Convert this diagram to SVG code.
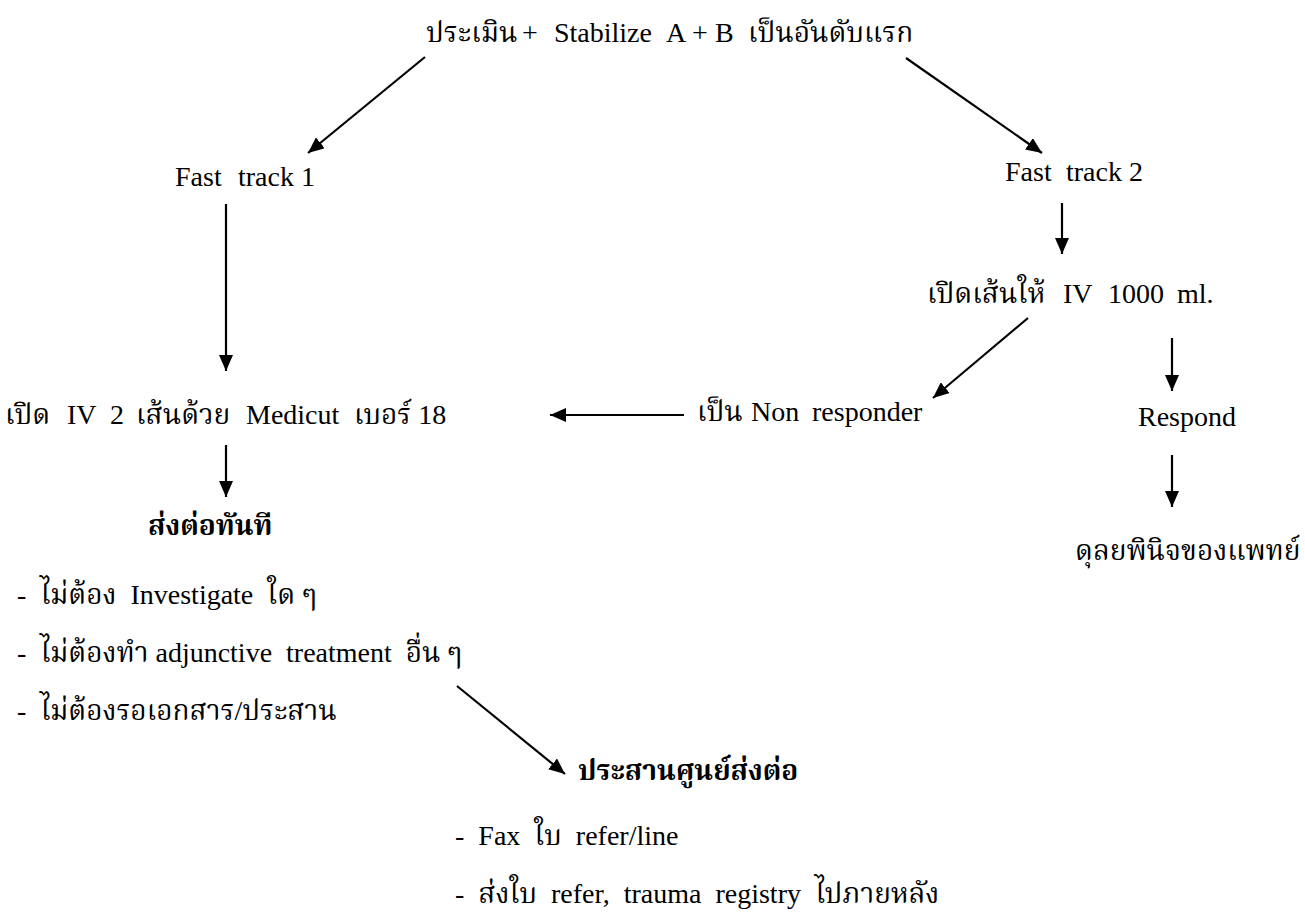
<svg xmlns="http://www.w3.org/2000/svg" width="1305" height="913" viewBox="0 0 1305 913">
<style>
text { font-family: "Liberation Serif", "Noto Serif Thai", "Noto Sans Thai", "Tlwg Typo", serif; font-size: 28px; fill: #000; }
.b { font-weight: bold; }
.c line { stroke: #000; stroke-width: 2.2; marker-end: url(#ah); }
</style>
<defs>
<marker id="ah" markerUnits="userSpaceOnUse" markerWidth="16" markerHeight="14" refX="16" refY="7" orient="auto">
<path d="M0,0 L16,7 L0,14 z" fill="#000"/>
</marker>
</defs>
<rect width="1305" height="913" fill="#fff"/>
<g id="n-top"><text y="42"><tspan x="426">ประเมิน</tspan><tspan x="522">+</tspan><tspan x="554">Stabilize</tspan><tspan x="666">A</tspan><tspan x="692">+</tspan><tspan x="715">B</tspan><tspan x="748">เป็นอันดับแรก</tspan></text></g>
<g id="n-ft1"><text y="186"><tspan x="175">Fast</tspan><tspan x="238">track 1</tspan></text></g>
<g id="n-ft2"><text y="181"><tspan x="1005">Fast</tspan><tspan x="1066">track 2</tspan></text></g>
<g id="n-iv1000"><text y="303"><tspan x="927">เปิดเส้นให้</tspan><tspan x="1063">IV</tspan><tspan x="1108">1000</tspan><tspan x="1177">ml.</tspan></text></g>
<g id="n-medicut"><text y="424"><tspan x="5">เปิด</tspan><tspan x="67">IV</tspan><tspan x="110">2</tspan><tspan x="136">เส้นด้วย</tspan><tspan x="246">Medicut</tspan><tspan x="354">เบอร์ 18</tspan></text></g>
<g id="n-nonresp"><text y="421"><tspan x="697">เป็น</tspan><tspan x="751">Non</tspan><tspan x="812">responder</tspan></text></g>
<g id="n-respond"><text x="1138" y="426">Respond</text></g>
<g id="n-judge"><text x="1075" y="560">ดุลยพินิจของแพทย์</text></g>
<g id="n-refer"><text class="b" x="148" y="535">ส่งต่อทันที</text>
<text x="17" y="604" xml:space="preserve">-  ไม่ต้อง  Investigate  ใด ๆ</text>
<text x="17" y="662" xml:space="preserve">-  ไม่ต้องทำ adjunctive  treatment  อื่น ๆ</text>
<text x="17" y="720" xml:space="preserve">-  ไม่ต้องรอเอกสาร/ประสาน</text></g>
<g id="n-coord"><text class="b" x="578" y="780">ประสานศูนย์ส่งต่อ</text>
<text x="455" y="845" xml:space="preserve">-  Fax  ใบ  refer/line</text>
<text x="455" y="903" xml:space="preserve">-  ส่งใบ  refer,  trauma  registry  ไปภายหลัง</text></g>
<g id="connectors" class="c">
<line x1="425" y1="57" x2="308" y2="153"/>
<line x1="906" y1="58" x2="1042" y2="153"/>
<line x1="226" y1="204" x2="226" y2="371"/>
<line x1="1062" y1="203" x2="1062" y2="254"/>
<line x1="1028" y1="318" x2="933" y2="398"/>
<line x1="1172" y1="338" x2="1172" y2="391"/>
<line x1="1172" y1="455" x2="1172" y2="507"/>
<line x1="684" y1="415" x2="550" y2="415"/>
<line x1="226" y1="445" x2="226" y2="497"/>
<line x1="457" y1="686" x2="565" y2="774"/>
</g>
</svg>
